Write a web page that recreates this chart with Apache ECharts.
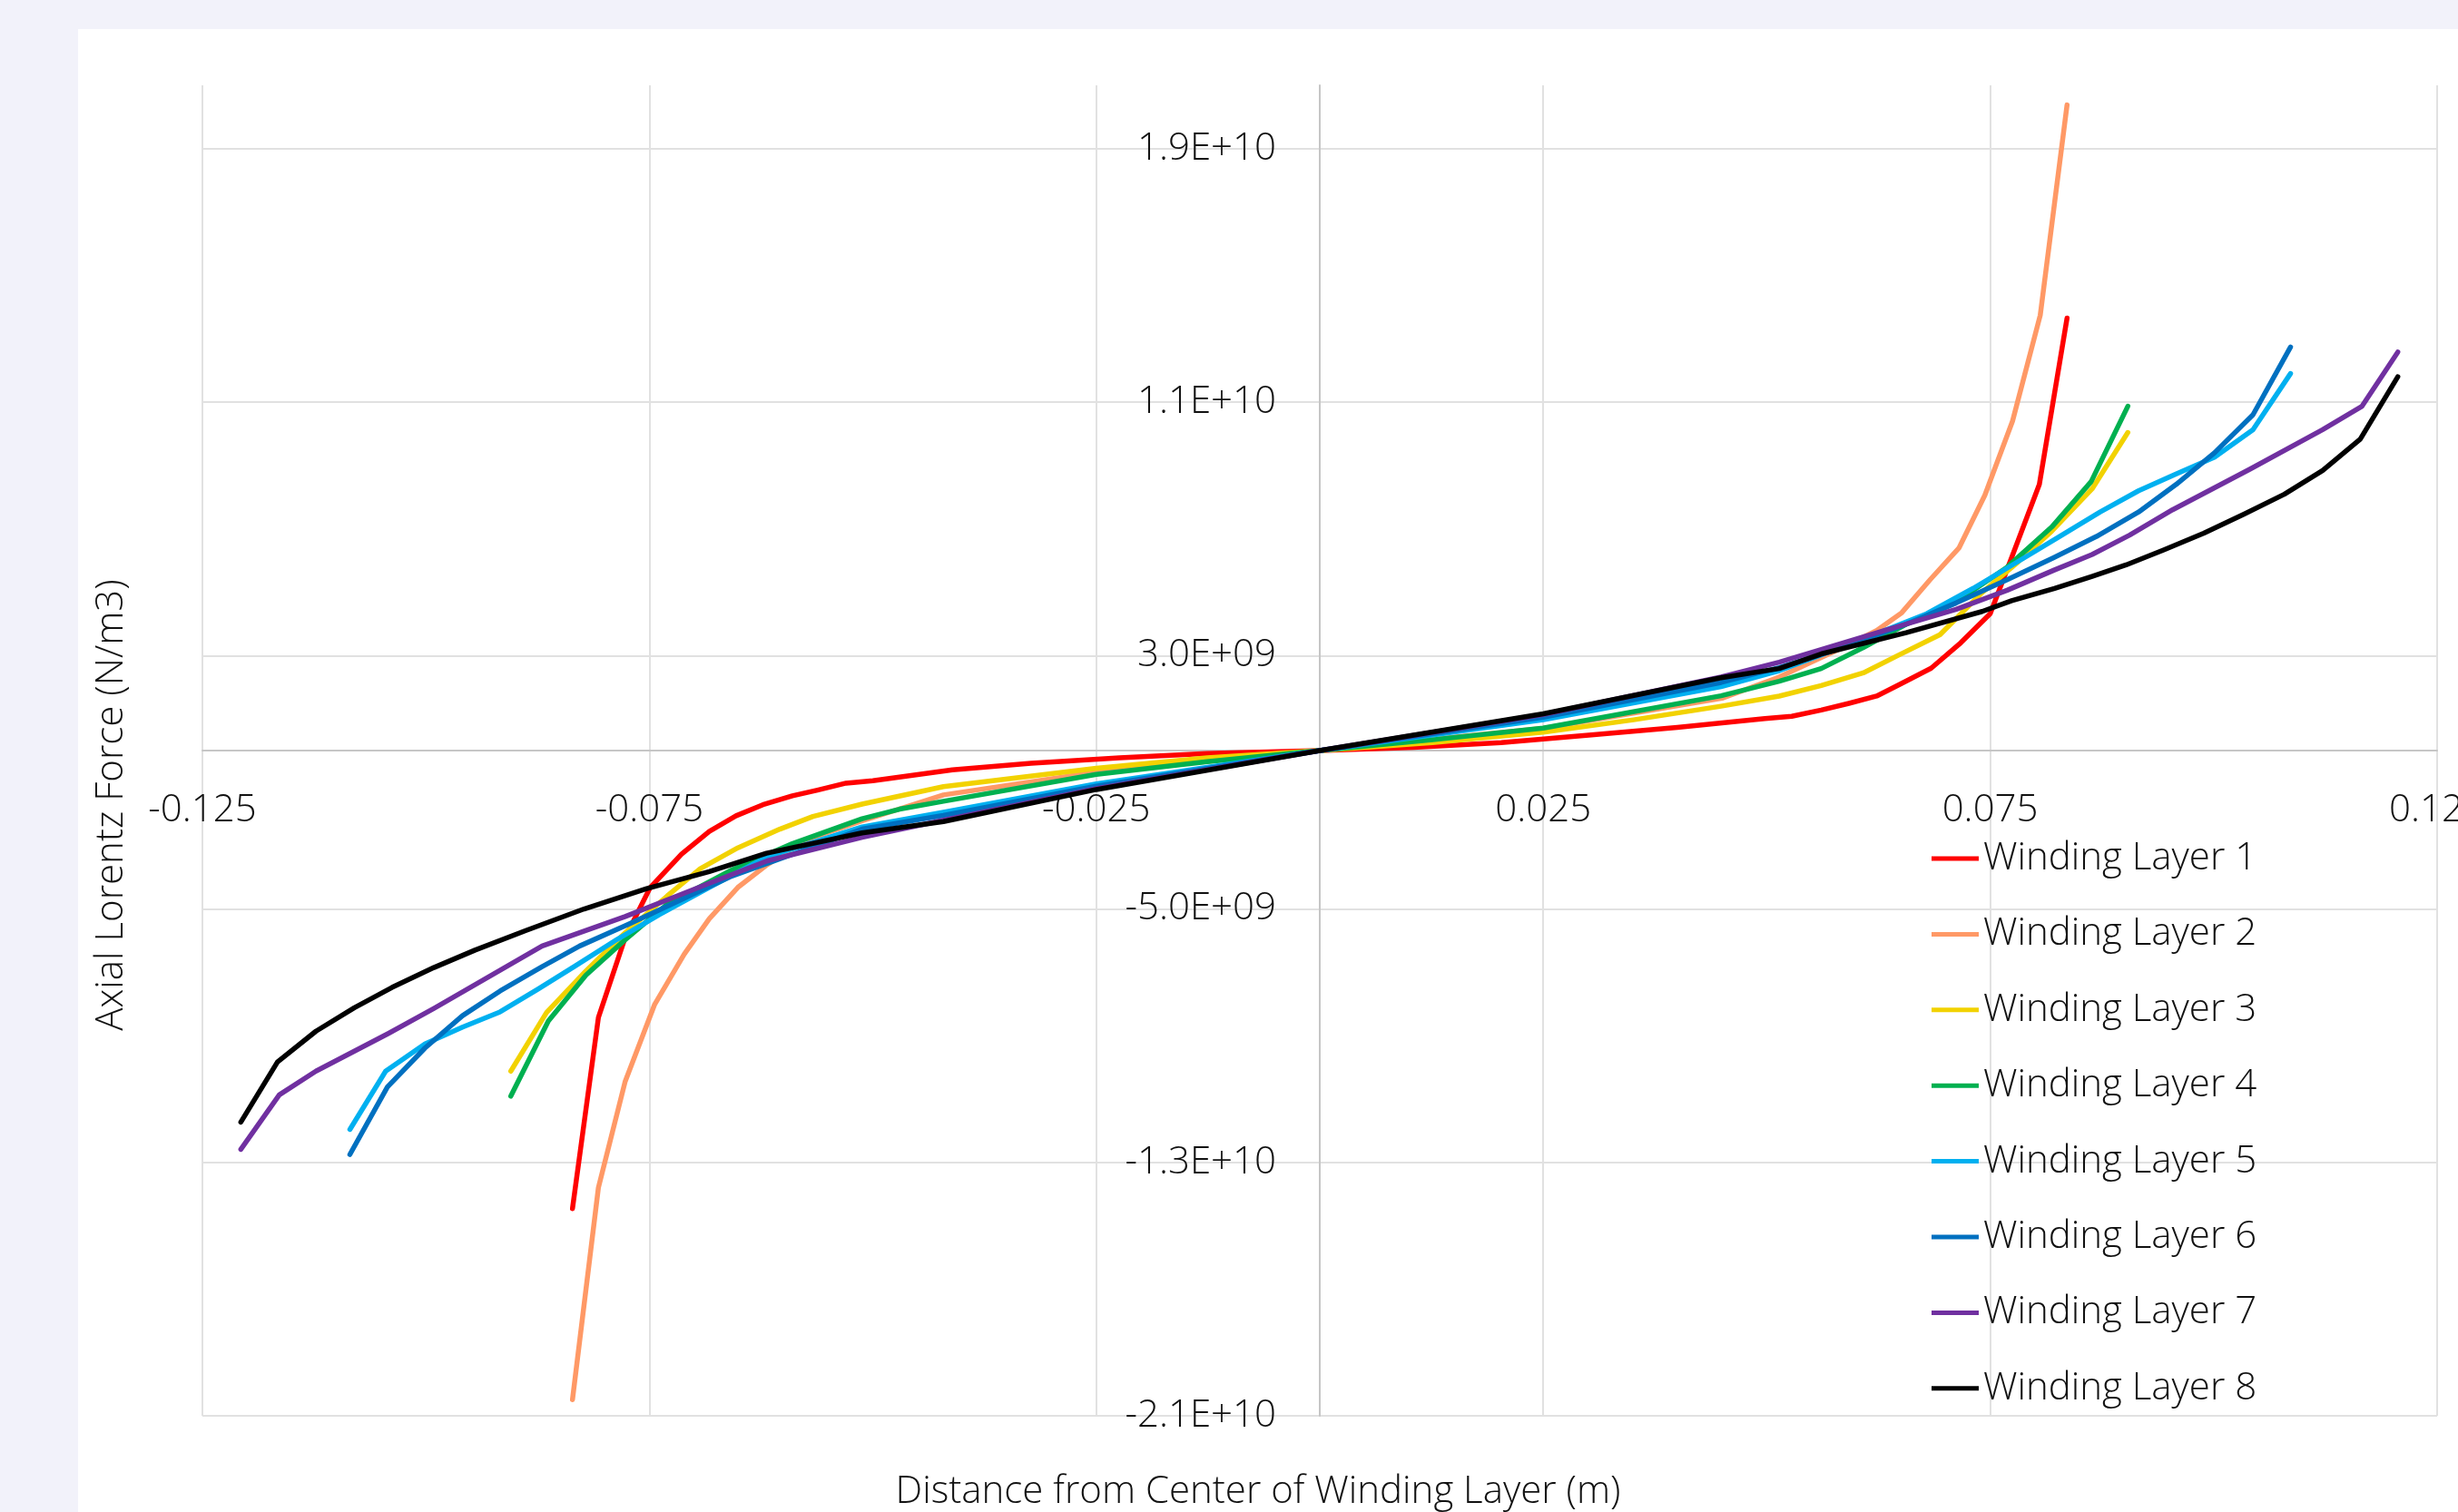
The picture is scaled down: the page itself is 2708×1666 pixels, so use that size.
<!DOCTYPE html>
<html>
<head>
<meta charset="utf-8">
<script src="https://cdn.jsdelivr.net/npm/echarts@6/dist/echarts.min.js"></script>
<style>
  html, body { margin: 0; padding: 0; background: #F2F2FA; overflow: hidden; }
  #panel { position: absolute; left: 86px; top: 32px; width: 2622px; height: 1634px; background: #ffffff; }
  #chart { position: absolute; left: 0; top: 0; width: 2708px; height: 1666px; }
</style>
</head>
<body>
<div id="panel"></div>
<div id="chart"></div>
<script>
// ---- data (x in m, y in N/m3) ----
const seriesNames = ['Winding Layer 1','Winding Layer 2','Winding Layer 3','Winding Layer 4',
                     'Winding Layer 5','Winding Layer 6','Winding Layer 7','Winding Layer 8'];
const seriesColors = ['#FF0000','#FF9966','#F2D200','#00B050','#00B0F0','#0070C0','#7030A0','#000000'];

const L1x = [-0.0836,-0.0807,-0.0777,-0.0749,-0.0714,-0.0683,-0.0653,-0.0623,-0.059,-0.0562,-0.053,-0.050,-0.0411,-0.0323,-0.0224,-0.0126,0,0.0105,0.0203,0.0301,0.040,0.0498,0.0528,0.0561,0.0592,0.0623,0.0651,0.0684,0.0717,0.075,0.0778,0.0805,0.0836];
const L1y = [-14.46e9,-8.43e9,-5.9e9,-4.32e9,-3.27e9,-2.55e9,-2.06e9,-1.71e9,-1.43e9,-1.25e9,-1.03e9,-0.95e9,-0.61e9,-0.4e9,-0.23e9,-0.09e9,0,0.1e9,0.25e9,0.49e9,0.73e9,1.01e9,1.08e9,1.28e9,1.49e9,1.72e9,2.12e9,2.6e9,3.4e9,4.32e9,6.39e9,8.4e9,13.65e9];

const L2x = [-0.0836,-0.0807,-0.0777,-0.0744,-0.0711,-0.0683,-0.0651,-0.0618,-0.0581,-0.0554,-0.0512,-0.0421,-0.025,0,0.025,0.045,0.0514,0.0585,0.0623,0.0651,0.0683,0.0715,0.0744,0.0775,0.0806,0.0836];
const L2y = [-20.49e9,-13.8e9,-10.44e9,-8.01e9,-6.43e9,-5.31e9,-4.32e9,-3.6e9,-2.94e9,-2.62e9,-2.22e9,-1.4e9,-0.68e9,0,0.7e9,1.65e9,2.32e9,3.25e9,3.79e9,4.35e9,5.4e9,6.39e9,8.06e9,10.4e9,13.74e9,20.38e9];

const L3x = [-0.0905,-0.0865,-0.0821,-0.0777,-0.073,-0.0693,-0.0651,-0.0604,-0.0567,-0.0512,-0.0421,-0.025,-0.0126,0,0.0126,0.025,0.0351,0.0449,0.0514,0.0561,0.0608,0.0646,0.0694,0.0741,0.0781,0.0819,0.0864,0.0904];
const L3y = [-10.12e9,-8.27e9,-6.96e9,-5.75e9,-4.59e9,-3.73e9,-3.07e9,-2.48e9,-2.08e9,-1.69e9,-1.14e9,-0.56e9,-0.23e9,0,0.25e9,0.58e9,0.97e9,1.4e9,1.72e9,2.05e9,2.45e9,2.99e9,3.66e9,4.99e9,5.95e9,6.93e9,8.26e9,10.04e9];

const L4x = [-0.0905,-0.0863,-0.0821,-0.0777,-0.073,-0.066,-0.059,-0.0512,-0.047,-0.0421,-0.025,-0.0126,0,0.0126,0.025,0.0449,0.0514,0.0561,0.0608,0.0656,0.0717,0.0769,0.0819,0.0863,0.0904];
const L4y = [-10.91e9,-8.54e9,-7.09e9,-5.97e9,-4.85e9,-3.8e9,-2.94e9,-2.15e9,-1.85e9,-1.6e9,-0.75e9,-0.35e9,0,0.34e9,0.71e9,1.73e9,2.19e9,2.59e9,3.25e9,3.99e9,4.79e9,5.79e9,7.06e9,8.49e9,10.87e9];

const L5x = [-0.1085,-0.1045,-0.1001,-0.0959,-0.0917,-0.0875,-0.0833,-0.0786,-0.0739,-0.0683,-0.0618,-0.0512,-0.0421,-0.025,0,0.025,0.0449,0.0514,0.0608,0.0679,0.0731,0.0779,0.0826,0.0873,0.0916,0.0958,0.1001,0.1044,0.1086];
const L5y = [-11.96e9,-10.12e9,-9.26e9,-8.73e9,-8.25e9,-7.54e9,-6.8e9,-5.96e9,-5.18e9,-4.32e9,-3.35e9,-2.41e9,-1.95e9,-1.05e9,0,0.97e9,2.02e9,2.52e9,3.52e9,4.32e9,5.12e9,5.93e9,6.73e9,7.53e9,8.2e9,8.73e9,9.26e9,10.13e9,11.9e9];

const L6x = [-0.1085,-0.1043,-0.1001,-0.0959,-0.0917,-0.087,-0.0828,-0.0777,-0.075,-0.066,-0.0512,-0.0421,-0.025,0,0.025,0.0449,0.0514,0.0585,0.0656,0.0712,0.0769,0.0821,0.0869,0.0916,0.0958,0.1001,0.1044,0.1086];
const L6y = [-12.75e9,-10.62e9,-9.39e9,-8.37e9,-7.59e9,-6.82e9,-6.17e9,-5.53e9,-5.18e9,-3.99e9,-2.48e9,-2.05e9,-1.12e9,0,1.05e9,2.15e9,2.62e9,3.25e9,3.99e9,4.66e9,5.39e9,6.09e9,6.76e9,7.53e9,8.4e9,9.4e9,10.6e9,12.74e9];

const L7x = [-0.1207,-0.1164,-0.1123,-0.1042,-0.0991,-0.087,-0.0777,-0.0683,-0.0618,-0.0512,-0.0421,-0.025,0,0.025,0.0449,0.0514,0.0632,0.0712,0.0769,0.0821,0.0864,0.0906,0.0954,0.1041,0.1122,0.1166,0.1206];
const L7y = [-12.59e9,-10.87e9,-10.12e9,-8.93e9,-8.14e9,-6.17e9,-5.24e9,-4.19e9,-3.48e9,-2.74e9,-2.2e9,-1.2e9,0,1.14e9,2.32e9,2.79e9,3.79e9,4.46e9,5.06e9,5.69e9,6.19e9,6.8e9,7.6e9,8.89e9,10.13e9,10.87e9,12.58e9];

const L8x = [-0.1207,-0.1166,-0.1123,-0.108,-0.1038,-0.0991,-0.0945,-0.0888,-0.0823,-0.0753,-0.0683,-0.0619,-0.0512,-0.0421,-0.025,0,0.025,0.0449,0.0514,0.0561,0.0656,0.0741,0.0774,0.0822,0.0864,0.0902,0.0944,0.0989,0.1034,0.1079,0.1122,0.1164,0.1206];
const L8y = [-11.73e9,-9.83e9,-8.86e9,-8.12e9,-7.48e9,-6.85e9,-6.3e9,-5.68e9,-5.0e9,-4.36e9,-3.82e9,-3.24e9,-2.6e9,-2.24e9,-1.23e9,0,1.16e9,2.3e9,2.59e9,3.05e9,3.72e9,4.39e9,4.73e9,5.12e9,5.5e9,5.86e9,6.33e9,6.86e9,7.46e9,8.09e9,8.84e9,9.83e9,11.8e9];

const layerX = [L1x,L2x,L3x,L4x,L5x,L6x,L7x,L8x];
const layerY = [L1y,L2y,L3y,L4y,L5y,L6y,L7y,L8y];

const xTitle = 'Distance from Center of Winding Layer (m)';
const yTitle = 'Axial Lorentz Force (N/m3)';

// ---- chart ----
const FONT = '"Open Sans", "Noto Sans", sans-serif';
const TXT = '#111111';
const chart = echarts.init(document.getElementById('chart'), null, {renderer: 'canvas'});

function sci(v) {
  let s = v.toExponential(1).toUpperCase();
  return s.replace(/E([+-])(\d)$/, 'E$10$2');
}

const G = { left: 223, right: 23, top: 94, bottom: 106 };
const H = 1666, W = 2708;
const zeroY = 827;   // pixel row of y = 0
const zeroX = 1454;  // pixel column of x = 0

const series = seriesNames.map((name, i) => ({
  name: name,
  type: 'line',
  data: layerX[i].map((x, j) => [x, layerY[i][j]]),
  symbol: 'none',
  showSymbol: false,
  smooth: false,
  clip: false,
  lineStyle: { color: seriesColors[i], width: 5.5, cap: 'round', join: 'round' },
  itemStyle: { color: seriesColors[i] },
  emphasis: { disabled: true }
}));

chart.setOption({
  animation: false,
  backgroundColor: 'transparent',
  grid: { left: G.left, right: G.right, top: G.top, bottom: G.bottom, containLabel: false, outerBoundsMode: 'none' },
  xAxis: {
    type: 'value', min: -0.125, max: 0.125, interval: 0.05,
    position: 'bottom',
    offset: -((H - G.bottom) - zeroY),
    axisLine: { show: true, onZero: false, lineStyle: { color: '#c6c6c6', width: 2 } },
    axisTick: { show: false },
    splitLine: { show: true, lineStyle: { color: '#e1e1e1', width: 2 } },
    axisLabel: {
      margin: 45, fontSize: 42, fontFamily: FONT, fontWeight: 300, color: TXT,
      formatter: v => v.toFixed(3)
    }
  },
  yAxis: {
    type: 'value', min: -2.1e10, max: 2.1e10, interval: 8e9,
    position: 'left',
    offset: -(zeroX - G.left),
    axisLine: { show: true, onZero: false, lineStyle: { color: '#c6c6c6', width: 2 } },
    axisTick: { show: false },
    splitLine: { show: true, showMaxLine: false, lineStyle: { color: '#e1e1e1', width: 2 } },
    axisLabel: {
      margin: 48, fontSize: 42, fontFamily: FONT, fontWeight: 300, color: TXT,
      showMaxLabel: false,
      formatter: v => sci(v)
    }
  },
  legend: {
    orient: 'vertical', left: 2128, top: 924, padding: 0,
    itemWidth: 52, itemHeight: 44, itemGap: 39.4,
    selectedMode: false,
    data: seriesNames.map(n => ({ name: n, icon: 'path://M0,0 L52,0 L52,5 L0,5 Z' })),
    textStyle: { fontSize: 42, fontFamily: FONT, fontWeight: 300, color: TXT, lineHeight: 44 }
  },
  graphic: [
    { type: 'text', x: 1386, y: 1644, silent: true,
      style: { text: xTitle, font: '300 42px ' + FONT, fill: TXT, align: 'center', verticalAlign: 'middle' } },
    { type: 'text', x: 123, y: 887, rotation: Math.PI / 2, silent: true,
      style: { text: yTitle, font: '300 42px ' + FONT, fill: TXT, align: 'center', verticalAlign: 'middle' } }
  ],
  series: series
});
</script>
</body>
</html>
